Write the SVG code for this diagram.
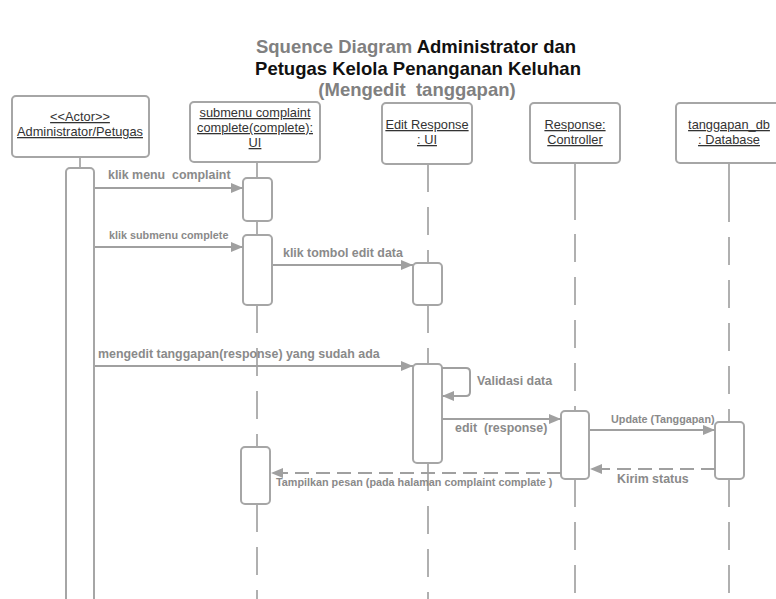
<svg xmlns="http://www.w3.org/2000/svg" width="776" height="599" viewBox="0 0 776 599">
  <style>
    .box { fill: #ffffff; stroke: #a6a6a6; stroke-width: 2; }
    .act { fill: #ffffff; stroke: #a6a6a6; stroke-width: 2; }
    .life { stroke: #b0b0b0; stroke-width: 2; fill: none; }
    .dash { stroke-dasharray: 28 15; }
    .lbl { font-family: "Liberation Sans", Arial, sans-serif; font-size: 12.8px; fill: #333333; text-decoration: underline; text-anchor: middle; }
    .msg { stroke: #a0a0a0; stroke-width: 2; fill: none; }
    .ret { stroke-dasharray: 14 7; }
    .mt { font-family: "Liberation Sans", Arial, sans-serif; font-weight: bold; font-size: 12.4px; fill: #8a8a8a; white-space: pre; }
    .sm { font-size: 10.8px; }
    .title { font-family: "Liberation Sans", Arial, sans-serif; font-weight: bold; font-size: 18.5px; text-anchor: middle; white-space: pre; }
  </style>
  <defs>
    <marker id="arrow" viewBox="0 0 12 10" refX="12" refY="5" markerWidth="12" markerHeight="10" markerUnits="userSpaceOnUse" orient="auto">
      <path d="M0,0 L12,5 L0,10 Z" fill="#a0a0a0"/>
    </marker>
  </defs>
  <rect width="776" height="599" fill="#ffffff"/>

  <!-- title -->
  <g id="title">
    <text class="title" x="416" y="53"><tspan fill="#808080">Squence Diagram</tspan><tspan fill="#111111"> Administrator dan</tspan></text>
    <text class="title" x="418" y="75" fill="#111111">Petugas Kelola Penanganan Keluhan</text>
    <text class="title" x="417" y="96" fill="#808080">(Mengedit  tanggapan)</text>
  </g>

  <!-- lifelines -->
  <g id="lifelines">
    <line class="life" x1="80" y1="157" x2="80" y2="168"/>
    <line class="life" x1="257" y1="162" x2="257" y2="178"/>
    <line class="life" x1="257" y1="221" x2="257" y2="235"/>
    <line class="life dash" x1="257" y1="305" x2="257" y2="447"/>
    <line class="life dash" x1="257" y1="504" x2="257" y2="599"/>
    <line class="life dash" x1="428" y1="164" x2="428" y2="263"/>
    <line class="life dash" x1="428" y1="305" x2="428" y2="364"/>
    <line class="life dash" x1="428" y1="463" x2="428" y2="599"/>
    <line class="life" x1="575" y1="163" x2="575" y2="220"/>
    <line class="life dash" x1="575" y1="234" x2="575" y2="411" stroke-dasharray="26 15"/>
    <line class="life dash" x1="575" y1="479" x2="575" y2="599"/>
    <line class="life" x1="729" y1="163" x2="729" y2="222"/>
    <line class="life dash" x1="729" y1="237" x2="729" y2="422"/>
    <line class="life dash" x1="729" y1="479" x2="729" y2="599"/>
  </g>

  <!-- participants -->
  <g id="actor">
    <rect class="box" x="12" y="96" width="137" height="61" rx="4"/>
    <text class="lbl" x="80" y="121">&lt;&lt;Actor&gt;&gt;</text>
    <text class="lbl" x="80" y="136">Administrator/Petugas</text>
    <rect class="act" x="66" y="168" width="28" height="450" rx="4"/>
  </g>
  <g id="submenu-complaint">
    <rect class="box" x="190" y="102" width="130" height="60" rx="4"/>
    <text class="lbl" x="255" y="117">submenu complaint</text>
    <text class="lbl" x="255" y="132">complete(complete):</text>
    <text class="lbl" x="255" y="147">UI</text>
    <rect class="act" x="243" y="178" width="29" height="43" rx="4"/>
    <rect class="act" x="243" y="235" width="29" height="70" rx="4"/>
    <rect class="act" x="241" y="447" width="29" height="57" rx="4"/>
  </g>
  <g id="edit-response">
    <rect class="box" x="382" y="103" width="90" height="61" rx="4"/>
    <text class="lbl" x="427" y="129">Edit Response</text>
    <text class="lbl" x="427" y="144">: UI</text>
    <rect class="act" x="413" y="263" width="29" height="42" rx="4"/>
    <rect class="act" x="413" y="364" width="29" height="99" rx="4"/>
  </g>
  <g id="response-controller">
    <rect class="box" x="530" y="103" width="90" height="60" rx="4"/>
    <text class="lbl" x="575" y="129">Response:</text>
    <text class="lbl" x="575" y="144">Controller</text>
    <rect class="act" x="561" y="411" width="28" height="68" rx="4"/>
  </g>
  <g id="tanggapan-db">
    <rect class="box" x="676" y="103" width="106" height="60" rx="4"/>
    <text class="lbl" x="729" y="129">tanggapan_db</text>
    <text class="lbl" x="729" y="144">: Database</text>
    <rect class="act" x="715" y="422" width="29" height="57" rx="4"/>
  </g>

  <!-- messages -->
  <g id="connectors">
    <line class="msg" x1="95" y1="188" x2="243" y2="188" marker-end="url(#arrow)"/>
    <line class="msg" x1="95" y1="247" x2="243" y2="247" marker-end="url(#arrow)"/>
    <line class="msg" x1="273" y1="265" x2="413" y2="265" marker-end="url(#arrow)"/>
    <line class="msg" x1="95" y1="366" x2="413" y2="366" marker-end="url(#arrow)"/>
    <path class="msg" d="M442,368 H466 Q470,368 470,372 V392 Q470,396 466,396 H442" marker-end="url(#arrow)"/>
    <line class="msg" x1="442" y1="419" x2="561" y2="419" marker-end="url(#arrow)"/>
    <line class="msg" x1="590" y1="430" x2="715" y2="430" marker-end="url(#arrow)"/>
    <line class="msg ret" x1="715" y1="469" x2="590" y2="469" marker-end="url(#arrow)"/>
    <line class="msg ret" x1="561" y1="473" x2="271" y2="473" marker-end="url(#arrow)"/>
  </g>

  <!-- message labels -->
  <g id="labels">
    <text class="mt" x="108" y="179">klik menu  complaint</text>
    <text class="mt sm" x="109" y="239">klik submenu complete</text>
    <text class="mt" x="283" y="257">klik tombol edit data</text>
    <text class="mt" x="98" y="358">mengedit tanggapan(response) yang sudah ada</text>
    <text class="mt" x="477" y="385">Validasi data</text>
    <text class="mt" x="455" y="432">edit  (response)</text>
    <text class="mt sm" x="611" y="423">Update (Tanggapan)</text>
    <text class="mt" x="617" y="483">Kirim status</text>
    <text class="mt sm" x="276" y="486">Tampilkan pesan (pada halaman complaint complate )</text>
  </g>
</svg>
